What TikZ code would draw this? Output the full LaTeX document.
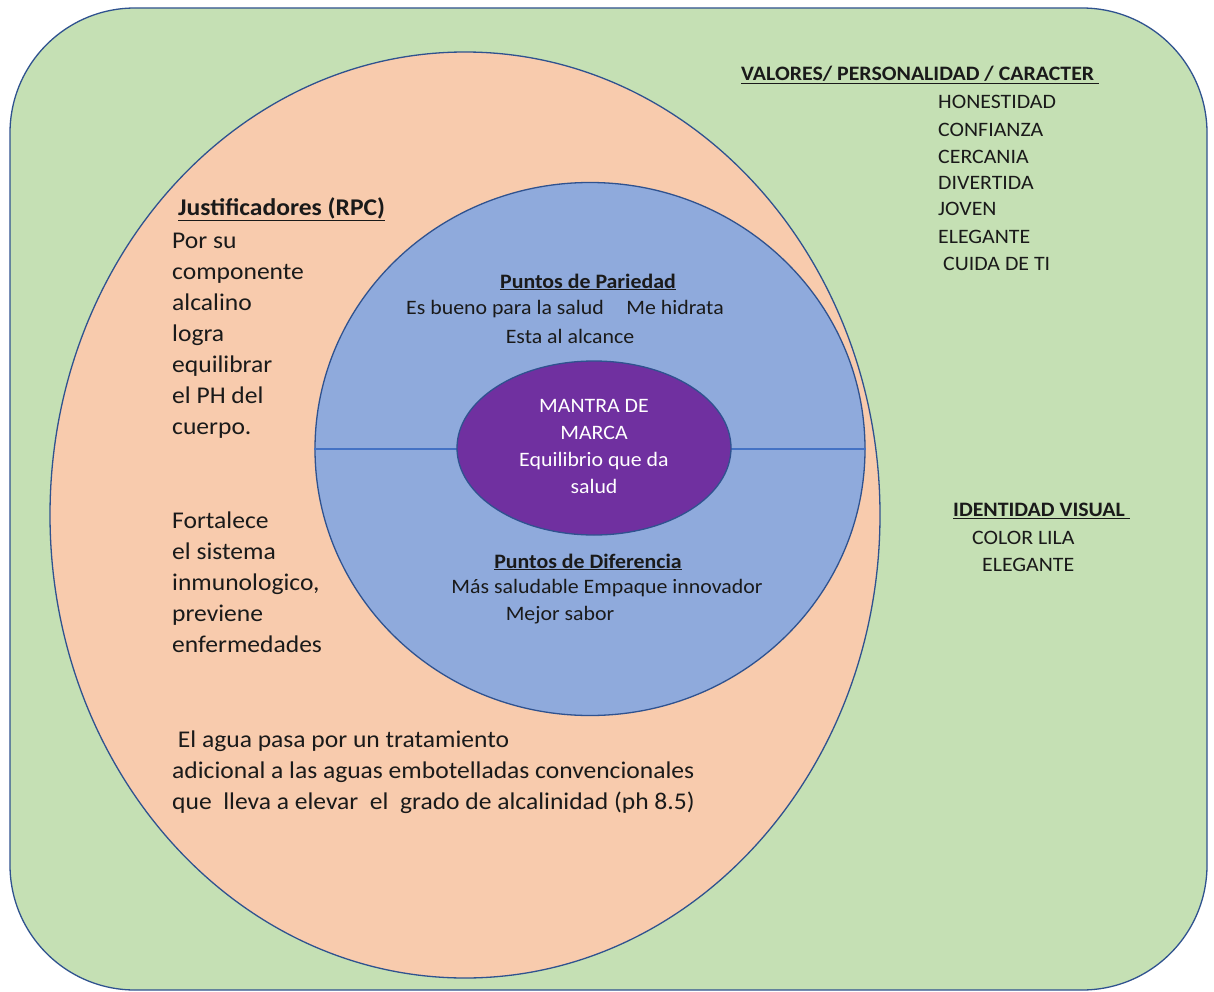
\documentclass[tikz,border=0pt]{standalone}
\usepackage{fontspec}
\setmainfont{Carlito}[FakeStretch=1.065]
\usetikzlibrary{shapes.geometric}
\definecolor{greenfill}{HTML}{C5E0B4}
\definecolor{orangefill}{HTML}{F8CBAD}
\definecolor{bluefill}{HTML}{8FAADC}
\definecolor{purplefill}{HTML}{7030A0}
\definecolor{outline}{HTML}{2F528F}
\definecolor{divline}{HTML}{4472C4}
\definecolor{txt}{HTML}{1A1A1A}
\tikzset{
  shapeline/.style={draw=outline, line width=1.3pt},
  smalltxt/.style={font=\fontsize{20.5}{27}\selectfont, text=txt, inner sep=0pt},
  bigtxt/.style={font=\fontsize{24}{31}\selectfont, text=txt, inner sep=0pt},
  lefttxt/.style={anchor=west},
  headtxt/.style={font=\fontsize{20.5}{27}\selectfont\bfseries, text=txt, inner sep=0pt},
  bighead/.style={font=\fontsize{24}{27}\selectfont\bfseries, text=txt, inner sep=0pt},
}
\newcommand{\ul}[1]{\underline{#1}}
\begin{document}
\begin{tikzpicture}[x=1pt,y=-1pt]
\useasboundingbox (0,0) rectangle (1214,992);
% outer green rounded rectangle
\node[shapeline, fill=greenfill, rounded corners=125pt, minimum width=1197pt, minimum height=982pt, inner sep=0pt] (outer) at (608.5,499) {};
% orange ellipse
\node[shapeline, fill=orangefill, ellipse, minimum width=830pt, minimum height=926pt, inner sep=0pt] (rpc) at (465,515) {};
% blue circle
\node[shapeline, fill=bluefill, ellipse, minimum width=550pt, minimum height=533pt, inner sep=0pt] (pts) at (590,449) {};
\draw[divline, line width=1.3pt] (pts.west) -- (pts.east);
% purple ellipse
\node[shapeline, fill=purplefill, ellipse, minimum width=274pt, minimum height=174pt, inner sep=0pt] (mantra) at (594,448) {};
\node[smalltxt, text=white, align=center, font=\fontsize{20.5}{27}\selectfont] (mantratxt) at (594,446) {MANTRA DE\\MARCA\\Equilibrio que da\\salud};

% Justificadores
\node[bighead, lefttxt] (jtitle) at (178,209) {\ul{Justificadores (RPC)}};
\node[bigtxt, align=left, anchor=north west] (j1) at (172,233) {Por su\\componente\\alcalino\\logra\\equilibrar\\el PH del\\cuerpo.};
\node[bigtxt, align=left, anchor=north west] (j2) at (172,512) {Fortalece\\el sistema\\inmunologico,\\previene\\enfermedades};
\node[bigtxt, align=left, anchor=north west] (j3) at (172,731) {\ El agua pasa por un tratamiento\\adicional a las aguas embotelladas convencionales\\que\ \ lleva a elevar\ \ el\ \ grado de alcalinidad (ph 8.5)};

% Puntos de paridad
\node[headtxt] (pp) at (588,282) {\ul{Puntos de Pariedad}};
\node[smalltxt] (pp1) at (565,309) {Es bueno para la salud\hspace{1.1em}Me hidrata};
\node[smalltxt] (pp2) at (570,336) {Esta al alcance};
% Puntos de diferencia
\node[headtxt] (pd) at (588,562) {\ul{Puntos de Diferencia}};
\node[smalltxt] (pd1) at (607,588) {Más saludable Empaque innovador};
\node[smalltxt] (pd2) at (560,615) {Mejor sabor};

% Valores
\node[headtxt, lefttxt] (val) at (741,75) {\ul{VALORES/ PERSONALIDAD / CARACTER\ }};
\node[smalltxt, lefttxt] (v1) at (938,102) {HONESTIDAD};
\node[smalltxt, lefttxt] (v2) at (938,130) {CONFIANZA};
\node[smalltxt, lefttxt] (v3) at (938,157) {CERCANIA};
\node[smalltxt, lefttxt] (v4) at (938,183) {DIVERTIDA};
\node[smalltxt, lefttxt] (v5) at (938,209) {JOVEN};
\node[smalltxt, lefttxt] (v6) at (938,237) {ELEGANTE};
\node[smalltxt, lefttxt] (v7) at (943,264) {CUIDA DE TI};

% Identidad visual
\node[headtxt, lefttxt] (iv) at (953,511) {\ul{IDENTIDAD VISUAL\ }};
\node[smalltxt, lefttxt] (iv1) at (972,538) {COLOR LILA};
\node[smalltxt, lefttxt] (iv2) at (982,565) {ELEGANTE};
\end{tikzpicture}
\end{document}
